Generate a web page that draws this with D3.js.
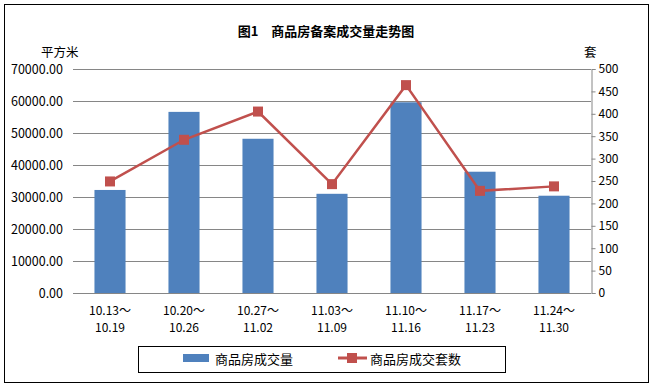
<!DOCTYPE html>
<html lang="zh">
<head>
<meta charset="UTF-8">
<title>商品房备案成交量走势图</title>
<script src="https://d3js.org/d3.v7.min.js"></script>
<style>
    body, html { margin: 0; padding: 0; background: #fff; }
    svg text { font-family: "Noto Sans CJK SC", "DejaVu Sans", sans-serif; fill: #000; }
</style>
</head>
<body>
<div id="chart"></div>
<script>
const weeks = ["10.13～10.19", "10.20～10.26", "10.27～11.02", "11.03～11.09", "11.10～11.16", "11.17～11.23", "11.24～11.30"];
const area = [32200, 56600, 48200, 31000, 59600, 37900, 30400];   // 商品房成交量 (平方米)
const units = [249, 342, 405, 243, 464, 228, 238];                // 商品房成交套数 (套)
const leftTicks = [0, 10000, 20000, 30000, 40000, 50000, 60000, 70000];
const rightTicks = [0, 50, 100, 150, 200, 250, 300, 350, 400, 450, 500];

const W = 654, H = 387;
const margin = {top: 69, right: 63, bottom: 94, left: 73};
const iw = W - margin.left - margin.right;
const ih = H - margin.top - margin.bottom;

const svg = d3.select("#chart").append("svg")
    .attr("width", W).attr("height", H);

// outer frame
svg.append("rect")
    .attr("x", 4.5).attr("y", 4.5)
    .attr("width", 644).attr("height", 378)
    .attr("fill", "none").attr("stroke", "#000").attr("stroke-width", 1);

svg.append("text")
    .attr("x", 326).attr("y", 36)
    .attr("text-anchor", "middle")
    .attr("font-size", 13).attr("font-weight", "bold")
    .text("图1　商品房备案成交量走势图");

svg.append("text").attr("x", 41).attr("y", 57).attr("font-size", 12.5).text("平方米");
svg.append("text").attr("x", 584).attr("y", 57).attr("font-size", 12.5).text("套");

const g = svg.append("g").attr("transform", `translate(${margin.left},${margin.top})`);

const x = d3.scaleBand().domain(weeks).range([0, iw]).paddingInner(0.58).paddingOuter(0.29);
const yL = d3.scaleLinear().domain([0, 70000]).range([ih, 0]);
const yR = d3.scaleLinear().domain([0, 500]).range([ih, 0]);

// gridlines
g.append("g").selectAll("line").data(leftTicks).join("line")
    .attr("x1", 0).attr("x2", iw)
    .attr("y1", d => Math.round(yL(d)) + 0.5).attr("y2", d => Math.round(yL(d)) + 0.5)
    .attr("stroke", "#868686");

// left labels
g.append("g").selectAll("text").data(leftTicks).join("text")
    .attr("x", -10).attr("y", d => yL(d) + 4.5)
    .attr("text-anchor", "end").attr("font-size", 12.5)
    .text(d => d3.format(".2f")(d));

// right axis
const rAxis = g.append("g").attr("transform", `translate(${iw + 0.5},0)`)
    .call(d3.axisRight(yR).tickValues(rightTicks).tickSize(4).tickPadding(3).tickFormat(d3.format("d")));
rAxis.select(".domain").attr("stroke", "#868686");
rAxis.selectAll(".tick line").attr("stroke", "#868686");
rAxis.selectAll(".tick text").attr("font-size", 12).attr("font-family", "\"Noto Sans CJK SC\", sans-serif");

// bars
g.append("g").selectAll("rect").data(area).join("rect")
    .attr("x", (d, i) => x(weeks[i]))
    .attr("width", x.bandwidth())
    .attr("y", d => yL(d))
    .attr("height", d => ih - yL(d))
    .attr("fill", "#4f81bd");

// line
const cx = i => x(weeks[i]) + x.bandwidth() / 2;
g.append("path").datum(units)
    .attr("fill", "none").attr("stroke", "#c0504d").attr("stroke-width", 2.5)
    .attr("d", d3.line().x((d, i) => cx(i)).y(d => yR(d)));
g.append("g").selectAll("rect").data(units).join("rect")
    .attr("x", (d, i) => cx(i) - 5).attr("y", d => yR(d) - 5)
    .attr("width", 10).attr("height", 10)
    .attr("fill", "#c0504d");

// x labels
const xl = g.append("g").selectAll("text").data(weeks).join("text")
    .attr("text-anchor", "middle").attr("font-size", 12)
    .attr("transform", (d, i) => `translate(${cx(i)},${ih + 22})`);
xl.append("tspan").attr("x", 0).attr("dy", 0).text(d => d.split("～")[0] + "～");
xl.append("tspan").attr("x", 0).attr("dy", 17).text(d => d.split("～")[1]);

// legend
const lg = svg.append("g");
lg.append("rect").attr("x", 138.5).attr("y", 346.5).attr("width", 367).attr("height", 26)
    .attr("fill", "#fff").attr("stroke", "#000");
lg.append("rect").attr("x", 183).attr("y", 354).attr("width", 26).attr("height", 8).attr("fill", "#4f81bd");
lg.append("text").attr("x", 215).attr("y", 364).attr("font-size", 13).text("商品房成交量");
lg.append("line").attr("x1", 338).attr("x2", 367).attr("y1", 358).attr("y2", 358)
    .attr("stroke", "#c0504d").attr("stroke-width", 3);
lg.append("rect").attr("x", 347).attr("y", 353).attr("width", 10).attr("height", 10).attr("fill", "#c0504d");
lg.append("text").attr("x", 370).attr("y", 364).attr("font-size", 13).text("商品房成交套数");
</script>
</body>
</html>
